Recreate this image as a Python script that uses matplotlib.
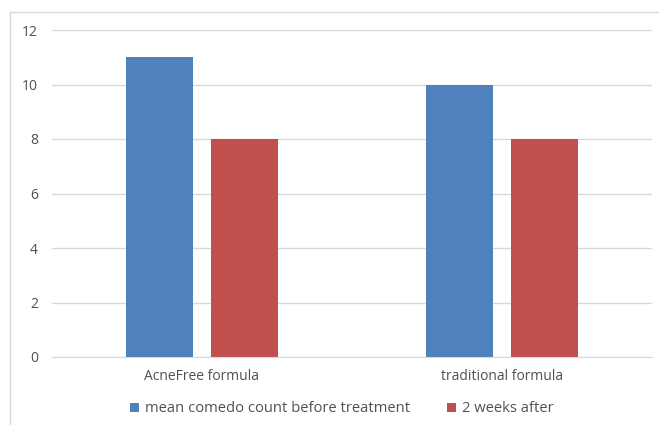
import numpy as np
import matplotlib
matplotlib.use("Agg")
from matplotlib import pyplot as plt
from matplotlib.patches import Rectangle

plt.rcParams['font.family'] = ['Open Sans', 'DejaVu Sans']

categories = ["AcneFree formula", "traditional formula"]
before = [11, 10]
after = [8, 8]
series_names = ["mean comedo count before treatment", "2 weeks after"]
yticks = [0, 2, 4, 6, 8, 10, 12]

blue = '#4F81BD'
red = '#C0504D'
text_color = '#505050'
grid_color = '#D9D9D9'

fig = plt.figure(figsize=(6.59, 4.25), dpi=100)
ax = fig.add_axes([52 / 659, 68 / 425, 600 / 659, 327 / 425])

x = np.arange(len(categories))
width = 0.223
offset = 0.143
ax.bar(x - offset, before, width, color=blue, label=series_names[0], zorder=3)
ax.bar(x + offset, after, width, color=red, label=series_names[1], zorder=3)

ax.set_xlim(-0.5, 1.5)
ax.set_ylim(0, 12)
ax.set_yticks(yticks)
ax.set_xticks(x)
ax.set_xticklabels(categories)
ax.yaxis.grid(True, color=grid_color, linewidth=1, zorder=0)
ax.set_axisbelow(True)
for side in ['top', 'right', 'left']:
    ax.spines[side].set_visible(False)
ax.spines['bottom'].set_color(grid_color)
ax.spines['bottom'].set_zorder(4)
ax.tick_params(axis='both', length=0, labelsize=10, colors=text_color)
ax.tick_params(axis='y', pad=10)
ax.tick_params(axis='x', pad=9)

fig.legend(loc='center', bbox_to_anchor=(342 / 659, 1 - 409 / 425), ncol=2,
           frameon=False, fontsize=10.6, handlelength=0.6, handleheight=0.6,
           handletextpad=0.4, columnspacing=2.5, labelcolor=text_color)

# light frame around the chart area
fig.patches.append(Rectangle((10 / 659, -0.05), 1.0, 1 - 12 / 425 + 0.05,
                             transform=fig.transFigure, fill=False,
                             edgecolor='#D9D9D9', linewidth=1))

fig.savefig('out.png', dpi=100)
